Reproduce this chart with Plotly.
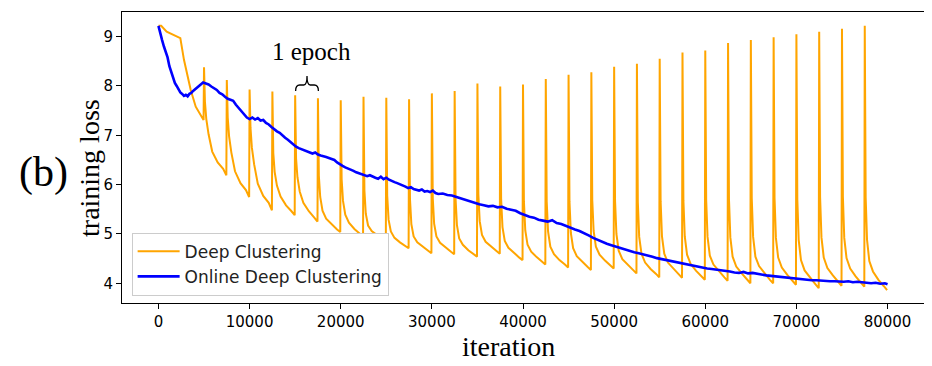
import plotly.graph_objects as go

# ---------------- data ----------------
# Deep Clustering: initial segment before first re-clustering spike
dc_warmup_iter = [0, 300, 900, 1800, 2400, 2800, 3170, 3540, 4090, 4640, 4950]
dc_warmup_loss = [9.22, 9.22, 9.10, 9.03, 8.97, 8.53, 8.19, 7.92, 7.58, 7.41, 7.31]

# Deep Clustering: one row per epoch (spike at epoch start, then decay)
dc_epoch_start = [5000, 7500, 10000, 12500, 15000, 17500, 20000, 22500, 25000, 27500,
                  30000, 32500, 35000, 37500, 40000, 42500, 45000, 47500, 50000, 52500,
                  55000, 57500, 60000, 62500, 65000, 67500, 70000, 72500, 75000, 77500]
dc_decay_offsets = [0, 100, 250, 500, 900, 1500, 2100, 2450]
dc_epoch_loss = [
    [8.38, 7.68, 7.33, 7.02, 6.67, 6.45, 6.32, 6.19],
    [8.12, 7.36, 6.98, 6.65, 6.27, 6.03, 5.89, 5.75],
    [7.93, 7.15, 6.75, 6.41, 6.02, 5.77, 5.63, 5.48],
    [7.89, 6.64, 6.26, 5.98, 5.76, 5.58, 5.46, 5.38],
    [7.81, 6.53, 6.15, 5.86, 5.63, 5.46, 5.33, 5.25],
    [7.75, 6.18, 5.75, 5.47, 5.31, 5.19, 5.09, 5.04],
    [7.71, 6.11, 5.67, 5.39, 5.23, 5.10, 5.01, 4.95],
    [7.78, 5.88, 5.41, 5.17, 5.06, 4.97, 4.89, 4.85],
    [7.76, 5.78, 5.29, 5.05, 4.92, 4.83, 4.76, 4.71],
    [7.73, 5.70, 5.20, 4.95, 4.83, 4.74, 4.66, 4.61],
    [7.85, 5.73, 5.21, 4.95, 4.82, 4.72, 4.64, 4.59],
    [7.90, 5.72, 5.18, 4.91, 4.78, 4.67, 4.59, 4.54],
    [8.05, 5.81, 5.26, 4.98, 4.84, 4.74, 4.65, 4.60],
    [7.99, 5.70, 5.14, 4.86, 4.72, 4.61, 4.52, 4.47],
    [8.03, 5.66, 5.07, 4.78, 4.64, 4.53, 4.44, 4.38],
    [8.14, 5.66, 5.05, 4.74, 4.59, 4.47, 4.38, 4.32],
    [8.23, 5.66, 5.02, 4.71, 4.55, 4.43, 4.33, 4.27],
    [8.28, 5.69, 5.06, 4.74, 4.58, 4.46, 4.36, 4.30],
    [8.39, 5.67, 5.00, 4.66, 4.49, 4.37, 4.26, 4.20],
    [8.45, 5.64, 4.94, 4.60, 4.42, 4.29, 4.19, 4.12],
    [8.55, 5.66, 4.95, 4.60, 4.42, 4.29, 4.18, 4.11],
    [8.68, 5.68, 4.95, 4.58, 4.39, 4.25, 4.14, 4.07],
    [8.72, 5.69, 4.94, 4.56, 4.38, 4.24, 4.12, 4.05],
    [8.87, 5.71, 4.93, 4.54, 4.34, 4.20, 4.07, 4.00],
    [8.93, 5.73, 4.94, 4.54, 4.35, 4.20, 4.07, 4.00],
    [8.99, 5.73, 4.92, 4.52, 4.32, 4.17, 4.05, 3.97],
    [9.05, 5.70, 4.88, 4.47, 4.26, 4.11, 3.98, 3.90],
    [9.10, 5.75, 4.93, 4.52, 4.31, 4.16, 4.03, 3.95],
    [9.16, 5.76, 4.92, 4.51, 4.30, 4.14, 4.01, 3.93],
    [9.22, 5.74, 4.88, 4.45, 4.24, 4.07, 3.94, 3.86],
]

# Online Deep Clustering
odc_iter = [0, 200, 400, 600, 800, 1000, 1200, 1400, 1600, 1800, 2000, 2200, 2400, 2600, 2800,
            3000, 3200, 3400, 3600, 3800, 4000, 4300, 4600, 4900, 5200, 5500, 5800, 6100, 6400,
            6700, 7000, 7300, 7600, 7900, 8200, 8500, 8800, 9100, 9400, 9700, 10000, 10300,
            10600, 10900, 11200, 11500, 11800, 12100, 12400, 12700, 13000, 13300, 13600, 13900,
            14200, 14500, 14800, 15100, 15400, 15700, 16000, 16300, 16600, 16900, 17200, 17500,
            17800, 18100, 18400, 18700, 19000, 19300, 19600, 19900, 20200, 20500, 20800, 21100,
            21400, 21700, 22000, 22300, 22600, 22900, 23200, 23500, 23800, 24100, 24400, 24700,
            25000, 25300, 25600, 25900, 26200, 26500, 26800, 27100, 27400, 27700, 28000, 28300,
            28600, 28900, 29200, 29500, 29800, 30100, 30400, 30700, 31200, 31700, 32200, 32700,
            33200, 33700, 34200, 34700, 35200, 35700, 36200, 36700, 37200, 37700, 38200, 38700,
            39200, 39700, 40200, 40700, 41200, 41700, 42200, 42700, 43200, 43700, 44200, 44700,
            45200, 45700, 46200, 46700, 47200, 47700, 48200, 48700, 49200, 49700, 50200, 50700,
            51200, 51700, 52200, 52700, 53200, 53700, 54200, 54700, 55200, 55700, 56200, 56700,
            57200, 57700, 58200, 58700, 59200, 59700, 60200, 60700, 61200, 61700, 62200, 62700,
            63200, 63700, 64200, 64700, 65200, 65700, 66200, 66700, 67200, 67700, 68200, 68700,
            69200, 69700, 70200, 70700, 71200, 71700, 72200, 72700, 73200, 73700, 74200, 74700,
            75200, 75700, 76200, 76700, 77200, 77700, 78200, 78700, 79200, 79700, 80000]
odc_loss = [9.22, 9.10, 8.93, 8.80, 8.70, 8.58, 8.40, 8.28, 8.16, 8.06, 8.00, 7.93, 7.87, 7.84, 7.80,
            7.82, 7.79, 7.84, 7.86, 7.90, 7.93, 7.98, 8.02, 8.07, 8.05, 8.03, 7.99, 7.95, 7.92,
            7.86, 7.83, 7.78, 7.74, 7.72, 7.70, 7.62, 7.56, 7.49, 7.44, 7.36, 7.33, 7.36,
            7.32, 7.35, 7.30, 7.31, 7.25, 7.22, 7.17, 7.12, 7.08, 7.05, 6.99, 6.95,
            6.91, 6.86, 6.81, 6.77, 6.74, 6.72, 6.69, 6.68, 6.65, 6.63, 6.65, 6.61,
            6.59, 6.58, 6.56, 6.54, 6.52, 6.50, 6.45, 6.41, 6.38, 6.35, 6.33, 6.31,
            6.28, 6.25, 6.23, 6.20, 6.19, 6.17, 6.19, 6.16, 6.14, 6.12, 6.16, 6.11,
            6.14, 6.10, 6.07, 6.05, 6.03, 6.01, 5.99, 5.96, 5.93, 5.95, 5.91, 5.89,
            5.88, 5.90, 5.86, 5.87, 5.85, 5.88, 5.83, 5.81, 5.82, 5.79, 5.78, 5.75,
            5.72, 5.68, 5.65, 5.62, 5.60, 5.58, 5.56, 5.57, 5.54, 5.55, 5.51, 5.49,
            5.47, 5.42, 5.38, 5.35, 5.33, 5.29, 5.27, 5.25, 5.28, 5.22, 5.20, 5.16,
            5.12, 5.09, 5.06, 5.02, 4.97, 4.92, 4.88, 4.83, 4.80, 4.77, 4.74, 4.71,
            4.68, 4.66, 4.63, 4.61, 4.59, 4.56, 4.54, 4.51, 4.49, 4.47, 4.45, 4.43,
            4.42, 4.40, 4.38, 4.36, 4.34, 4.32, 4.30, 4.29, 4.28, 4.26, 4.25, 4.24,
            4.22, 4.21, 4.23, 4.20, 4.21, 4.19, 4.18, 4.16, 4.15, 4.14, 4.13, 4.12,
            4.11, 4.09, 4.09, 4.08, 4.07, 4.06, 4.06, 4.05, 4.05, 4.04, 4.04, 4.03,
            4.03, 4.04, 4.02, 4.03, 4.02, 4.01, 4.00, 4.01, 3.99, 4.00, 3.98]

x_tick_vals = [0, 10000, 20000, 30000, 40000, 50000, 60000, 70000, 80000]
x_tick_text = ["0", "10000", "20000", "30000", "40000", "50000", "60000", "70000", "80000"]
y_tick_vals = [4, 5, 6, 7, 8, 9]

# ---------------- build Deep Clustering series ----------------
dc_iter = list(dc_warmup_iter)
dc_loss = list(dc_warmup_loss)
for start, row in zip(dc_epoch_start, dc_epoch_loss):
    for off, v in zip(dc_decay_offsets, row):
        dc_iter.append(start + off)
        dc_loss.append(v)

fig = go.Figure()
fig.add_trace(go.Scatter(x=dc_iter, y=dc_loss, mode="lines", name="Deep Clustering",
                         line=dict(color="#FFA500", width=2)))
fig.add_trace(go.Scatter(x=odc_iter, y=odc_loss, mode="lines", name="Online Deep Clustering",
                         line=dict(color="#0000FF", width=2.6)))

serif = "Liberation Serif, Times New Roman, serif"
sans = "DejaVu Sans, sans-serif"

# the page body has an 8px margin, so the figure is sized to fill the rest of the window
fig.update_layout(
    width=924, height=358,
    margin=dict(l=114, r=8, t=4, b=63),
    paper_bgcolor="white", plot_bgcolor="white",
    showlegend=True,
    legend=dict(x=0.012, y=0.025, xanchor="left", yanchor="bottom",
                bgcolor="white", bordercolor="#cccccc", borderwidth=1,
                font=dict(family=sans, size=17, color="#222222"),
                itemwidth=42, tracegroupgap=0),
    xaxis=dict(range=[-4000, 84000], tickvals=x_tick_vals, ticktext=x_tick_text,
               automargin=False,
               showgrid=False, zeroline=False, showline=True, mirror=True,
               linecolor="black", linewidth=1, ticks="outside", ticklen=5,
               tickcolor="black", tickfont=dict(family=sans, size=15, color="black")),
    yaxis=dict(range=[3.60, 9.50], tickvals=y_tick_vals, automargin=False,
               showgrid=False, zeroline=False, showline=True, mirror=True,
               linecolor="black", linewidth=1, ticks="outside", ticklen=5,
               tickcolor="black", tickfont=dict(family=sans, size=15, color="black")),
)

# axis titles, panel label and "1 epoch" annotation
fig.add_annotation(text="iteration", xref="paper", yref="paper", x=0.4825, y=-0.150,
                   showarrow=False, font=dict(family=serif, size=28, color="black"),
                   xanchor="center", yanchor="middle")
fig.add_annotation(text="training loss", xref="paper", yref="paper", x=-0.0399, y=0.464,
                   textangle=-90, showarrow=False,
                   font=dict(family=serif, size=28, color="black"),
                   xanchor="center", yanchor="middle")
fig.add_annotation(text="(b)", xref="paper", yref="paper", x=-0.0985, y=0.45,
                   showarrow=False, font=dict(family=serif, size=42, color="black"),
                   xanchor="center", yanchor="middle")
fig.add_annotation(text="1 epoch", xref="x", yref="y", x=16830, y=8.70,
                   showarrow=False, font=dict(family=serif, size=25, color="black"),
                   xanchor="center", yanchor="middle")
fig.add_shape(type="path", xref="x", yref="y",
              path="M 15050,7.90 Q 15050,8.02 15500,8.02 L 15950,8.02 Q 16300,8.02 16300,8.20 "
                   "Q 16300,8.02 16650,8.02 L 17100,8.02 Q 17550,8.02 17550,7.90",
              line=dict(color="black", width=1.3))

fig.write_html("out.html")
